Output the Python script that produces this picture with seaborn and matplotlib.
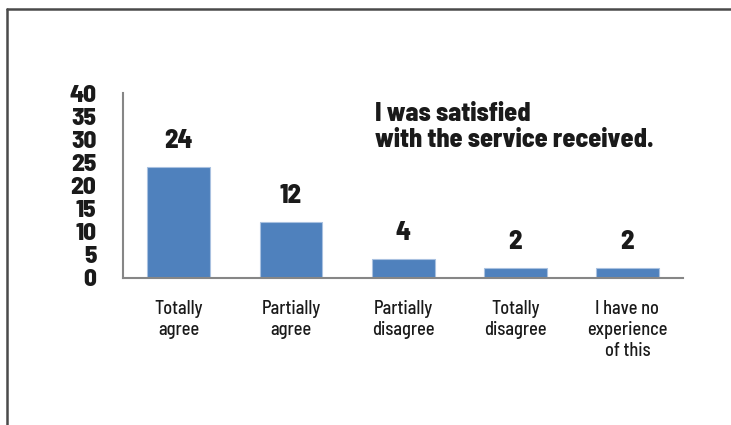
import matplotlib
matplotlib.use("Agg")
import matplotlib.pyplot as plt
from matplotlib.lines import Line2D
import seaborn as sns
import pandas as pd
from matplotlib import font_manager

categories = ["Totally\nagree", "Partially\nagree", "Partially\ndisagree",
              "Totally\ndisagree", "I have no\nexperience\nof this"]
counts = [24, 12, 4, 2, 2]
yticks = [0, 5, 10, 15, 20, 25, 30, 35, 40]
title_text = "I was satisfied\nwith the service received."

sns.set_theme(style="white")

available = {f.name for f in font_manager.fontManager.ttflist}
family = "DejaVu Sans"
for cand in ("Barlow Semi Condensed", "Barlow Condensed"):
    if cand in available:
        family = cand
        break
plt.rcParams["font.family"] = [family, "DejaVu Sans"]

df = pd.DataFrame({"answer": categories, "count": counts})

fig = plt.figure(figsize=(7.31, 4.25), dpi=100)
ax = fig.add_axes([0.1679, 0.3466, 0.7671, 0.4339])

sns.barplot(data=df, x="answer", y="count", color="#4f81bd", width=0.56,
            saturation=1, edgecolor="#a9c1e0", linewidth=0.8, ax=ax)

ax.set_xlim(-0.5, 4.5)
ax.set_ylim(0, 40)
ax.set_yticks(yticks)
ax.set_yticklabels([str(t) for t in yticks], fontsize=18, fontweight=800,
                   color="#1a1a1a")
ax.tick_params(axis="y", length=0, pad=19)
ax.tick_params(axis="x", length=0, pad=16)
for lbl in ax.get_xticklabels():
    lbl.set_fontsize(13.2)
    lbl.set_fontweight(500)
    lbl.set_color("#1a1a1a")
    lbl.set_linespacing(1.22)
ax.set_xlabel("")
ax.set_ylabel("")

for side in ("top", "right"):
    ax.spines[side].set_visible(False)
for side in ("left", "bottom"):
    ax.spines[side].set_color("#868686")
    ax.spines[side].set_linewidth(1.5)

for i, v in enumerate(counts):
    ax.annotate(str(v), (i, v), xytext=(0, 19), textcoords="offset pixels",
                ha="center", va="baseline", fontsize=19, fontweight=800,
                color="#1a1a1a")

fig.text(375 / 731, 1 - 102 / 425, title_text, ha="left", va="top",
         fontsize=18.8, fontweight=800, color="#1a1a1a", linespacing=1.12)

# outer frame: left and top edges
fig.add_artist(Line2D([7 / 731, 7 / 731], [0, 1 - 8.5 / 425],
                      transform=fig.transFigure, color="#4a4a4a", lw=1.8))
fig.add_artist(Line2D([7 / 731, 1], [1 - 8.5 / 425, 1 - 8.5 / 425],
                      transform=fig.transFigure, color="#4a4a4a", lw=1.8))

fig.savefig("out.png", dpi=100)
